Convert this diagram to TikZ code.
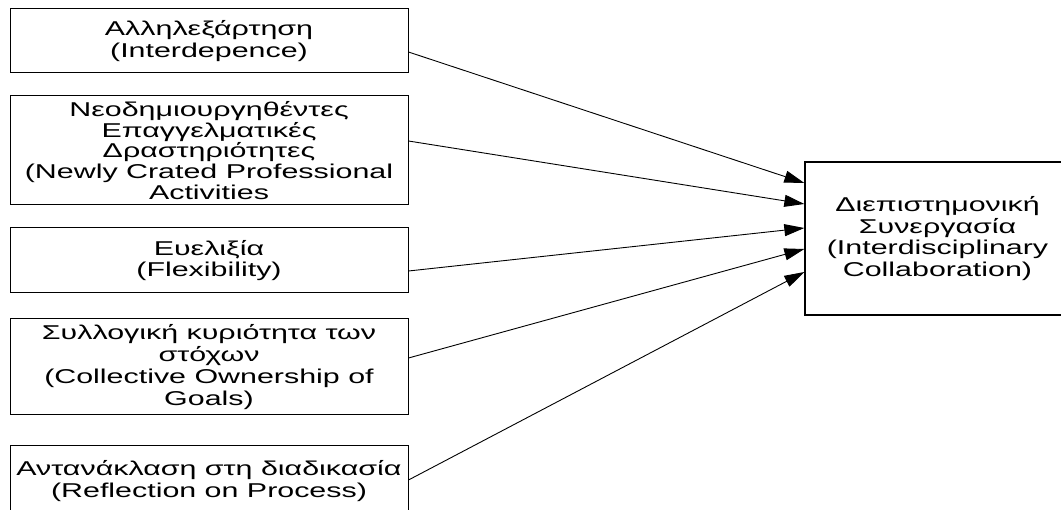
\documentclass[tikz,border=0pt]{standalone}
\usepackage{fontspec}
\setmainfont{Liberation Sans}[FakeStretch=1.52]
\usetikzlibrary{arrows.meta}
\begin{document}
\begin{tikzpicture}[x=1pt,y=-1pt,
  box/.style={draw=black,line width=1pt,inner sep=0pt,align=center,
    font=\fontsize{20}{21.8}\selectfont,minimum width=398pt},
  bigbox/.style={draw=black,line width=1.3pt,inner sep=0pt,align=center,
    font=\fontsize{20}{21.8}\selectfont,minimum width=265pt,minimum height=153pt},
  link/.style={line width=0.9pt,-{Triangle[length=20pt,width=12pt]}}]
\useasboundingbox (0,0) rectangle (1061,510);
\clip (0,0) rectangle (1061,510);
\node[box,minimum height=64pt] (b1) at (209,41) {Αλληλεξάρτηση\\(Interdepence)};
\node[box,minimum height=109pt,font=\fontsize{20}{20.8}\selectfont] (b2) at (209,150.5) {Νεοδημιουργηθέντες\\Επαγγελματικές\\Δραστηριότητες\\(Newly Crated Professional\\Activities};
\node[box,minimum height=65pt] (b3) at (209,260.5) {Ευελιξία\\(Flexibility)};
\node[box,minimum height=96pt] (b4) at (209,367) {Συλλογική κυριότητα των\\στόχων\\(Collective Ownership of\\Goals)};
\node[box,minimum height=70pt] (b5) at (209,481) {Αντανάκλαση στη διαδικασία\\(Reflection on Process)};
\node[bigbox] (t) at (937.5,238.5) {Διεπιστημονική\\Συνεργασία\\(Interdisciplinary\\Collaboration)};
\draw[link] ([yshift=-11pt]b1.east) -- ([yshift=55.5pt]t.west);
\draw[link] ([yshift=9.5pt]b2.east) -- ([yshift=34.5pt]t.west);
\draw[link] ([yshift=-10.5pt]b3.east) -- ([yshift=10.5pt]t.west);
\draw[link] ([yshift=9pt]b4.east) -- ([yshift=-10.5pt]t.west);
\draw[link] ([yshift=1pt]b5.east) -- ([yshift=-33.5pt]t.west);
\end{tikzpicture}
\end{document}
